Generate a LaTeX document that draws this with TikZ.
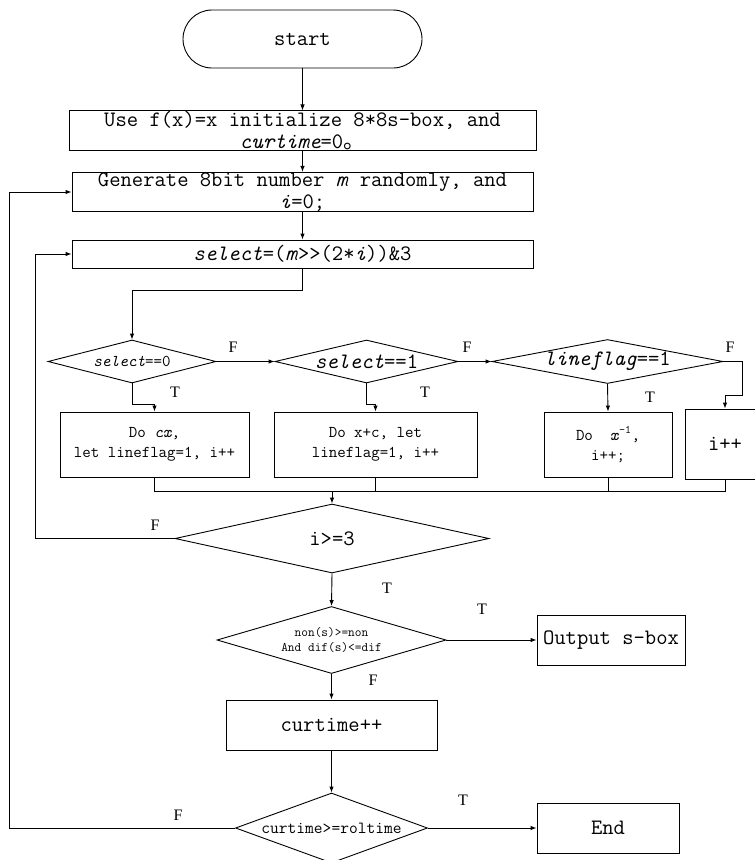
\documentclass[tikz,border=0pt]{standalone}
\usepackage{fontspec}
\setmainfont{Liberation Serif}
\newfontfamily\cjk{Noto Sans CJK SC}
\usetikzlibrary{shapes.geometric,arrows.meta}

\newcommand{\bigtt}{\fontsize{22}{22.5}\selectfont\ttfamily}
\newcommand{\midtt}{\fontsize{16.5}{20}\selectfont\ttfamily}
\newcommand{\smalltt}{\fontsize{13}{15.5}\selectfont\ttfamily}

\tikzset{
  box/.style={draw,rectangle,inner sep=0pt,align=center,font=\bigtt},
  term/.style={box,rounded corners=29pt},
  decision/.style={draw,diamond,inner sep=0pt,align=center,font=\bigtt},
  lab/.style={font=\fontsize{16}{18}\selectfont},
  flow/.style={-{Latex[length=6pt,width=4.5pt]}}
}

\begin{document}
\begin{tikzpicture}[x=1pt,y=-1pt,line width=0.9pt]
\useasboundingbox (0,0) rectangle (755,860);

\node[term,minimum width=239pt,minimum height=58pt] (start) at (302.5,39) {start};
\node[box,minimum width=467pt,minimum height=39pt] (init) at (302.5,130.5) {Use f(x)=x initialize 8*8s-box, and\\\textit{curtime}=0{\cjk 。}};
\node[box,minimum width=461pt,minimum height=38pt] (gen) at (302.5,192) {Generate 8bit number \textit{m} randomly, and\\\textit{i}=0;};
\node[box,minimum width=461pt,minimum height=28pt] (sel) at (302.5,254) {\textit{select}=(\textit{m}>>(2*\textit{i}))\&3};

\node[decision,font=\midtt,aspect=3.9,minimum width=168pt,minimum height=43pt] (d1) at (132,361.5) {\textit{select}==0};
\node[decision,aspect=4.26,minimum width=183pt,minimum height=43pt] (d2) at (366.5,361.5) {\textit{select}==1};
\node[decision,aspect=5.25,minimum width=231pt,minimum height=44pt] (d3) at (607.5,361.5) {\textit{lineflag}==1};

\node[box,font=\midtt,minimum width=189pt,minimum height=65pt] (p1) at (154.5,444.5) {Do \textit{cx},\\let lineflag=1, i++};
\node[box,font=\midtt,minimum width=203pt,minimum height=65pt] (p2) at (375.5,444.5) {Do x+c, let\\lineflag=1, i++};
\node[box,font=\midtt,minimum width=128pt,minimum height=65pt] (p3) at (608,444.5) {Do\ \ \textit{x}\textsuperscript{-1},\\i++;};
\node[box,minimum width=80pt,minimum height=70pt] (inc) at (725,444) {i++};

\coordinate (m) at (332,491);
\node[decision,aspect=4.55,minimum width=314pt,minimum height=69pt] (loop) at (332,538.5) {i>=3};
\node[decision,font=\smalltt,aspect=3.42,minimum width=229pt,minimum height=67pt] (d4) at (331.5,640) {non(s)>=non\\And dif(s)<=dif};
\node[box,minimum width=148pt,minimum height=50pt] (out) at (611,640) {Output s-box};
\node[box,minimum width=211pt,minimum height=50pt] (cur) at (331.5,725) {curtime++};
\node[decision,font=\fontsize{17}{19}\selectfont\ttfamily,aspect=2.74,minimum width=192pt,minimum height=70pt] (d5) at (331.5,828) {curtime>=roltime};
\node[box,minimum width=142pt,minimum height=50pt] (end) at (608,828) {End};

\draw[flow] (start) -- (init);
\draw[flow] (init) -- (gen);
\draw[flow] (gen) -- (sel);
\draw[flow] (sel.south) -- ++(0,22) -| (d1.north);
\draw[flow] (d1.east) -- (d2.west);
\draw[flow] (d2.east) -- (d3.west);
\draw[flow] (d1.south) -- ++(0,21) -| (p1.north);
\draw[flow] (d2.south) -- ++(0,21) -| (p2.north);
\draw[flow] (d3.south) -- (p3.north);
\draw[flow] (d3.east) -- ++(19,0) -- ++(0,34) -| (inc.north);

\draw (p1.south) |- (m);
\draw (p2.south) |- (m);
\draw (p3.south) |- (m);
\draw (inc.south) |- (m);
\draw[flow] (m) -- (loop.north);

\draw[flow] (loop.west) -- ++(-139,0) |- (sel.west);
\draw[flow] (loop.south) -- (d4.north);
\draw[flow] (d4.east) -- (out.west);
\draw[flow] (d4.south) -- (cur.north);
\draw[flow] (cur.south) -- (d5.north);
\draw[flow] (d5.west) -- ++(-226,0) |- (gen.west);
\draw[flow] (d5.east) -- (end.west);

\node[lab] (f1) at (233,347) {F};
\node[lab] (t1) at (175,392) {T};
\node[lab] (f2) at (467,347) {F};
\node[lab] (t2) at (425,392) {T};
\node[lab] (f3) at (730,347) {F};
\node[lab] (t3) at (650,397) {T};
\node[lab] (f4) at (155,525) {F};
\node[lab] (t4) at (387,588) {T};
\node[lab] (t5) at (482,609) {T};
\node[lab] (f5) at (373,680) {F};
\node[lab] (f6) at (178,815) {F};
\node[lab] (t6) at (463,800) {T};
\end{tikzpicture}
\end{document}
